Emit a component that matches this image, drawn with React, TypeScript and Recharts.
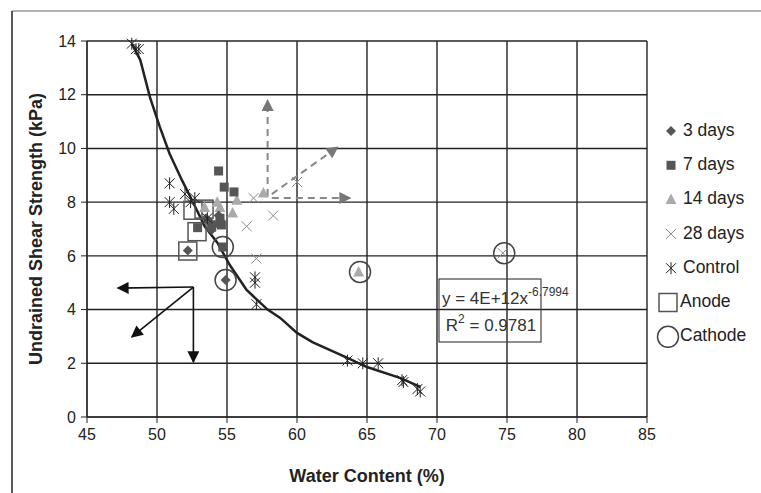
import { ScatterChart, Scatter, XAxis, YAxis, CartesianGrid, ReferenceLine } from "recharts";

// values
const curveX = [48.2, 48.8, 49.5, 50.2, 50.9, 51.8, 52.6, 53.4, 54.3, 55.2, 56.4, 57.9, 58.8, 60.0, 61.1, 63.6, 65.0, 67.4, 68.8];
const curveY = [13.9, 13.3, 11.9, 10.8, 9.8, 8.8, 7.97, 7.1, 6.5, 5.66, 4.73, 4.0, 3.69, 3.13, 2.79, 2.2, 1.86, 1.45, 1.12];

const controlX = [48.2, 48.5, 48.7, 50.9, 50.9, 51.2, 52.0, 52.4, 52.7, 53.6, 57.0, 57.0, 57.1, 63.6, 64.7, 65.8, 67.5, 67.6, 68.6, 68.8];
const controlY = [13.9, 13.7, 13.7, 8.7, 8.0, 7.75, 8.3, 8.0, 8.15, 7.4, 5.0, 5.2, 4.2, 2.1, 2.0, 2.0, 1.37, 1.3, 1.04, 0.95];

const days3X = [52.2, 54.9, 53.8, 54.1, 54.5, 53.9, 54.4, 53.5];
const days3Y = [6.2, 5.1, 7.26, 7.15, 7.33, 6.96, 7.5, 7.4];

const days7X = [54.4, 54.8, 55.5, 52.9, 54.7, 54.5, 54.6, 53.9];
const days7Y = [9.16, 8.56, 8.38, 7.05, 6.33, 7.4, 7.15, 7.07];

const days14X = [54.3, 53.4, 54.5, 55.4, 55.7, 57.6, 64.4];
const days14Y = [8.0, 7.8, 7.8, 7.6, 8.07, 8.34, 5.4];

const days28X = [56.9, 58.3, 56.4, 60.0, 57.1, 74.7];
const days28Y = [8.15, 7.5, 7.1, 8.75, 5.9, 6.1];

const anodeX = [52.57, 53.36, 52.86, 52.2];
const anodeY = [7.7, 7.74, 6.9, 6.18];

const cathodeX = [54.7, 54.9, 64.5, 74.8];
const cathodeY = [6.33, 5.1, 5.4, 6.1];

// annotation arrows: [from x, from y, to x, to y]
const blackArrows = [
  [52.6, 4.84, 47.2, 4.8],
  [52.6, 4.84, 52.6, 2.05],
  [52.6, 4.84, 48.2, 2.98],
];
const grayArrows = [
  [57.9, 8.23, 57.9, 11.8],
  [58.2, 8.15, 63.8, 8.15],
  [58.2, 8.3, 62.9, 10.05],
];

const xTicks = [45, 50, 55, 60, 65, 70, 75, 80, 85];
const yTicks = [0, 2, 4, 6, 8, 10, 12, 14];

const legendNames = ["3 days", "7 days", "14 days", "28 days", "Control", "Anode", "Cathode"];

const zip = (xs: number[], ys: number[]) => xs.map((x, i) => ({ x, y: ys[i] }));

const FONT = "Arial, 'Liberation Sans', sans-serif";

const Diamond = ({ cx, cy }: any) => (
  <path d={`M${cx},${cy - 5} L${cx + 5},${cy} L${cx},${cy + 5} L${cx - 5},${cy} Z`} fill="#555" />
);
const Square = ({ cx, cy }: any) => <rect x={cx - 4.5} y={cy - 4.5} width={9} height={9} fill="#555" />;
const Triangle = ({ cx, cy }: any) => (
  <path d={`M${cx},${cy - 6} L${cx + 5.5},${cy + 4.5} L${cx - 5.5},${cy + 4.5} Z`} fill="#aaa" />
);
const Cross = ({ cx, cy }: any) => (
  <path d={`M${cx - 5},${cy - 5} L${cx + 5},${cy + 5} M${cx - 5},${cy + 5} L${cx + 5},${cy - 5}`} stroke="#888" strokeWidth={1} />
);
const Star = ({ cx, cy }: any) => (
  <path
    d={`M${cx - 5},${cy - 5} L${cx + 5},${cy + 5} M${cx - 5},${cy + 5} L${cx + 5},${cy - 5} M${cx},${cy - 6} L${cx},${cy + 6}`}
    stroke="#222"
    strokeWidth={1}
  />
);
const OpenSquare = ({ cx, cy }: any) => (
  <rect x={cx - 9} y={cy - 9} width={18} height={18} fill="none" stroke="#555" strokeWidth={1.5} />
);
const OpenCircle = ({ cx, cy }: any) => <circle cx={cx} cy={cy} r={10.5} fill="none" stroke="#444" strokeWidth={1.5} />;
const NoDot = () => null;

const legendShapes = [Diamond, Square, Triangle, Cross, Star, OpenSquare, OpenCircle];

export default function App() {
  return (
    <div style={{ position: "relative", width: 761, height: 493, background: "#fff", fontFamily: FONT }}>
      <style>{`body{margin:0}`}</style>
      <svg width={0} height={0} style={{ position: "absolute" }}>
        <defs>
          <marker id="headBlack" viewBox="0 0 10 10" refX={9} refY={5} markerWidth={13} markerHeight={12} markerUnits="userSpaceOnUse" orient="auto">
            <path d="M0,0 L10,5 L0,10 Z" fill="#111" />
          </marker>
          <marker id="headGray" viewBox="0 0 10 10" refX={9} refY={5} markerWidth={13} markerHeight={12} markerUnits="userSpaceOnUse" orient="auto">
            <path d="M0,0 L10,5 L0,10 Z" fill="#777" />
          </marker>
        </defs>
      </svg>

      <ScatterChart width={761} height={493} margin={{ top: 41, right: 114, bottom: 36, left: 32 }}>
        <CartesianGrid stroke="#222" strokeWidth={1.4} />
        <XAxis
          type="number"
          dataKey="x"
          domain={[45, 85]}
          ticks={xTicks}
          height={40}
          tickSize={6}
          tickMargin={6}
          stroke="#222"
          tick={{ fill: "#222", fontSize: 16, fontFamily: FONT }}
        />
        <YAxis
          type="number"
          dataKey="y"
          domain={[0, 14]}
          ticks={yTicks}
          width={55}
          tickSize={6}
          tickMargin={5}
          stroke="#222"
          tick={{ fill: "#222", fontSize: 16, fontFamily: FONT }}
        />
        <Scatter name="fit" data={zip(curveX, curveY)} shape={NoDot} line={{ stroke: "#222", strokeWidth: 2.5 }} lineType="joint" isAnimationActive={false} />
        {blackArrows.map((a, i) => (
          <ReferenceLine
            key={"b" + i}
            segment={[{ x: a[0], y: a[1] }, { x: a[2], y: a[3] }]}
            shape={(p: any) => <line x1={p.x1} y1={p.y1} x2={p.x2} y2={p.y2} stroke="#111" strokeWidth={1.6} markerEnd="url(#headBlack)" />}
          />
        ))}
        {grayArrows.map((a, i) => (
          <ReferenceLine
            key={"g" + i}
            segment={[{ x: a[0], y: a[1] }, { x: a[2], y: a[3] }]}
            shape={(p: any) => (
              <line x1={p.x1} y1={p.y1} x2={p.x2} y2={p.y2} stroke="#888" strokeWidth={2} strokeDasharray="7 5" markerEnd="url(#headGray)" />
            )}
          />
        ))}
        <Scatter name="Anode" data={zip(anodeX, anodeY)} shape={OpenSquare} isAnimationActive={false} />
        <Scatter name="Cathode" data={zip(cathodeX, cathodeY)} shape={OpenCircle} isAnimationActive={false} />
        <Scatter name="28 days" data={zip(days28X, days28Y)} shape={Cross} isAnimationActive={false} />
        <Scatter name="14 days" data={zip(days14X, days14Y)} shape={Triangle} isAnimationActive={false} />
        <Scatter name="7 days" data={zip(days7X, days7Y)} shape={Square} isAnimationActive={false} />
        <Scatter name="3 days" data={zip(days3X, days3Y)} shape={Diamond} isAnimationActive={false} />
        <Scatter name="Control" data={zip(controlX, controlY)} shape={Star} isAnimationActive={false} />
      </ScatterChart>

      <svg width={761} height={493} style={{ position: "absolute", left: 0, top: 0, pointerEvents: "none" }}>
        <line x1={12} y1={11} x2={761} y2={11} stroke="#999" strokeWidth={1.5} />
        <line x1={12} y1={11} x2={12} y2={493} stroke="#222" strokeWidth={1.5} />

        <text x={37} y={229} transform="rotate(-90 37 229)" textAnchor="middle" dominantBaseline="middle" fontSize={18} fontWeight="bold" fill="#222" fontFamily={FONT}>
          Undrained Shear Strength (kPa)
        </text>
        <text x={367} y={477} textAnchor="middle" dominantBaseline="middle" fontSize={18} fontWeight="bold" fill="#222" fontFamily={FONT}>
          Water Content (%)
        </text>

        {legendNames.map((name, i) => {
          const Shape = legendShapes[i];
          const cy = 131 + i * 34.3;
          const big = i >= 5;
          return (
            <g key={name}>
              <Shape cx={big ? 668 : 671} cy={cy} />
              <text x={big ? 680 : 683} y={cy} dominantBaseline="middle" fontSize={17.5} fill="#222" fontFamily={FONT}>
                {name}
              </text>
            </g>
          );
        })}

        <rect x={439} y={279} width={102} height={63} fill="none" stroke="#444" strokeWidth={1.2} />
        <text x={442} y={304} fontSize={17} fill="#333" fontFamily={FONT}>
          y = 4E+12x
          <tspan dy={-8} fontSize={12}>-6.7994</tspan>
        </text>
        <text x={491} y={331} textAnchor="middle" fontSize={17} fill="#333" fontFamily={FONT}>
          R<tspan dy={-8} fontSize={12}>2</tspan>
          <tspan dy={8}> = 0.9781</tspan>
        </text>
      </svg>
    </div>
  );
}
